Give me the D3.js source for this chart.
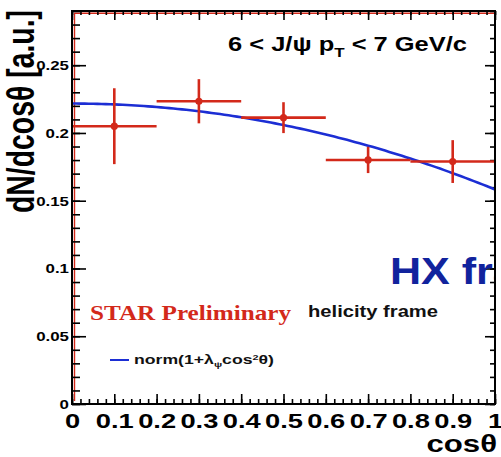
<!DOCTYPE html>
<html>
<head>
<meta charset="utf-8">
<script src="https://cdn.jsdelivr.net/npm/d3@7/dist/d3.min.js"></script>
<style>
  html, body { margin: 0; padding: 0; background: #fff; }
  svg { display: block; }
  text { font-family: "Liberation Sans", Arial, Helvetica, sans-serif; font-weight: bold; }
</style>
</head>
<body>
<svg id="chart" width="501" height="457"></svg>
<script>
// J/psi polarization: dN/dcos(theta) in the helicity frame, 6 < pT < 7 GeV/c
const cosTheta   = [0.1, 0.3, 0.5, 0.7, 0.9];
const binHalf    = [0.1, 0.1, 0.1, 0.1, 0.1];
const yieldVals  = [0.205, 0.2234, 0.2113, 0.1801, 0.1789];
const yieldErrs  = [0.028, 0.0163, 0.0114, 0.0097, 0.0158];

// fit result of norm(1 + lambda * cos^2 theta)
const fitNorm   = 0.2217;
const fitLambda = -0.286;

const xTickVals   = [0, 0.1, 0.2, 0.3, 0.4, 0.5, 0.6, 0.7, 0.8, 0.9, 1];
const xTickLabels = ["0", "0.1", "0.2", "0.3", "0.4", "0.5", "0.6", "0.7", "0.8", "0.9", "1"];
const yTickVals   = [0, 0.05, 0.1, 0.15, 0.2, 0.25];
const yTickLabels = ["0", "0.05", "0.1", "0.15", "0.2", "0.25"];

const frame = { left: 72, right: 495, top: 11, bottom: 404 };
const red = "#d3291a", blue = "#1c2ed4";

const svg = d3.select("#chart");

const x = d3.scaleLinear().domain([0, 1]).range([frame.left, frame.right]);
const y = d3.scaleLinear().domain([0, 0.29]).range([frame.bottom, frame.top]);

const minorX = d3.range(0, 1.0001, 0.02);
const minorY = d3.range(0, 0.2901, 0.01);

function cleanAxis(g) {
  g.select(".domain").remove();
  g.selectAll("line").attr("stroke", "#000").attr("stroke-width", 1.6);
}

svg.append("defs").append("clipPath").attr("id", "plotClip")
  .append("rect").attr("x", frame.left).attr("y", frame.top)
  .attr("width", frame.right - frame.left + 1).attr("height", frame.bottom - frame.top);

// red histogram outline along left and top edges
svg.append("path")
  .attr("d", `M${frame.left + 2.5},${frame.bottom - 3}V${frame.top + 2.2}H${frame.right}`)
  .attr("fill", "none").attr("stroke", red).attr("stroke-width", 1.4);

// left axis
svg.append("g").attr("transform", `translate(${frame.left},0)`)
  .call(d3.axisLeft(y).tickValues(minorY).tickSize(-8).tickFormat(""))
  .call(cleanAxis);
const yAx = svg.append("g").attr("transform", `translate(${frame.left},0)`)
  .call(d3.axisLeft(y).tickValues(yTickVals).tickSize(-14)
        .tickFormat((d, i) => yTickLabels[i]))
  .call(cleanAxis);
yAx.selectAll("text")
  .attr("x", 0).attr("y", 0).attr("dy", null)
  .attr("text-anchor", "end")
  .attr("font-size", 12.5).attr("fill", "#000")
  .attr("font-family", null)
  .attr("transform", "translate(-3,4.5) scale(1.35,1)");

// right axis
svg.append("g").attr("transform", `translate(${frame.right},0)`)
  .call(d3.axisRight(y).tickValues(minorY).tickSize(-5).tickFormat(""))
  .call(cleanAxis);
svg.append("g").attr("transform", `translate(${frame.right},0)`)
  .call(d3.axisRight(y).tickValues(yTickVals).tickSize(-10).tickFormat(""))
  .call(cleanAxis);

// bottom axis
svg.append("g").attr("transform", `translate(0,${frame.bottom})`)
  .call(d3.axisBottom(x).tickValues(minorX).tickSize(-5).tickFormat(""))
  .call(cleanAxis);
const xAx = svg.append("g").attr("transform", `translate(0,${frame.bottom})`)
  .call(d3.axisBottom(x).tickValues(xTickVals).tickSize(-10)
        .tickFormat((d, i) => xTickLabels[i]))
  .call(cleanAxis);
xAx.selectAll("text")
  .attr("x", 0).attr("y", 0).attr("dy", null)
  .attr("text-anchor", "middle")
  .attr("font-size", 21).attr("fill", "#000")
  .attr("font-family", null)
  .attr("transform", "translate(0,24) scale(1.3,1)");

// top axis
svg.append("g").attr("transform", `translate(0,${frame.top})`)
  .call(d3.axisTop(x).tickValues(minorX).tickSize(-4).tickFormat(""))
  .call(cleanAxis);
svg.append("g").attr("transform", `translate(0,${frame.top})`)
  .call(d3.axisTop(x).tickValues(xTickVals).tickSize(-9).tickFormat(""))
  .call(cleanAxis);

// fit curve
const curveX = d3.range(0, 1.0001, 0.01);
svg.append("path")
  .datum(curveX)
  .attr("fill", "none").attr("stroke", blue).attr("stroke-width", 2.6)
  .attr("d", d3.line().x(c => x(c)).y(c => y(fitNorm * (1 + fitLambda * c * c))));

// data points with errors
const pts = svg.append("g");
cosTheta.forEach((c, i) => {
  const g = pts.append("g").attr("stroke", red).attr("stroke-width", 2.6);
  g.append("line")
    .attr("x1", x(c - binHalf[i])).attr("x2", x(c + binHalf[i]))
    .attr("y1", y(yieldVals[i])).attr("y2", y(yieldVals[i]));
  g.append("line")
    .attr("x1", x(c)).attr("x2", x(c))
    .attr("y1", y(yieldVals[i] - yieldErrs[i])).attr("y2", y(yieldVals[i] + yieldErrs[i]));
  pts.append("circle")
    .attr("cx", x(c)).attr("cy", y(yieldVals[i])).attr("r", 3.6)
    .attr("fill", red);
});

// annotations
const title = svg.append("text")
  .attr("x", 228).attr("y", 51).attr("font-size", 19.5).attr("fill", "#000")
  .attr("textLength", 239).attr("lengthAdjust", "spacingAndGlyphs");
title.append("tspan").text("6 < J/\u03c8 p");
title.append("tspan").attr("font-size", 13).attr("dy", 6).text("T");
title.append("tspan").attr("dy", -6).text(" < 7 GeV/c");

svg.append("g")
  .attr("clip-path", "url(#plotClip)")
  .append("text")
  .attr("x", 0).attr("y", 0)
  .attr("transform", "translate(390,284) scale(1.18,1)")
  .attr("font-size", 36.5).attr("fill", "#11239d")
  .text("HX frame");

svg.append("text")
  .attr("x", 90).attr("y", 320)
  .style("font-family", "'Liberation Serif', 'Times New Roman', serif")
  .attr("font-size", 21).attr("fill", red)
  .attr("textLength", 201).attr("lengthAdjust", "spacingAndGlyphs")
  .text("STAR Preliminary");

svg.append("text")
  .attr("x", 308).attr("y", 317)
  .attr("font-size", 16.5).attr("fill", "#111")
  .attr("textLength", 130).attr("lengthAdjust", "spacingAndGlyphs")
  .text("helicity frame");

// legend
svg.append("line")
  .attr("x1", 110).attr("x2", 129).attr("y1", 360).attr("y2", 360)
  .attr("stroke", blue).attr("stroke-width", 2);
const leg = svg.append("text")
  .attr("x", 134).attr("y", 364).attr("font-size", 13).attr("fill", "#111")
  .attr("textLength", 140).attr("lengthAdjust", "spacingAndGlyphs");
leg.append("tspan").text("norm(1+\u03bb");
leg.append("tspan").attr("font-size", 8).attr("dy", 3).text("\u03c8");
leg.append("tspan").attr("dy", -3).text("cos");
leg.append("tspan").attr("font-size", 8).attr("dy", -4).text("2");
leg.append("tspan").attr("dy", 4).text("\u03b8)");

// frame
svg.append("rect")
  .attr("x", frame.left).attr("y", frame.top)
  .attr("width", frame.right - frame.left).attr("height", frame.bottom - frame.top)
  .attr("fill", "none").attr("stroke", "#000").attr("stroke-width", 2);

// axis titles
svg.append("text")
  .attr("x", 0).attr("y", 0)
  .attr("text-anchor", "end")
  .attr("font-size", 24).attr("fill", "#000")
  .attr("transform", "translate(497,452) scale(1.3,1)")
  .text("cos\u03b8");

svg.append("text")
  .attr("x", 0).attr("y", 0)
  .attr("text-anchor", "end")
  .attr("font-size", 28.4).attr("fill", "#000")
  .attr("transform", "translate(34,10) scale(1.35,1) rotate(-90)")
  .text("dN/dcos\u03b8 [a.u.]");
</script>
</body>
</html>
